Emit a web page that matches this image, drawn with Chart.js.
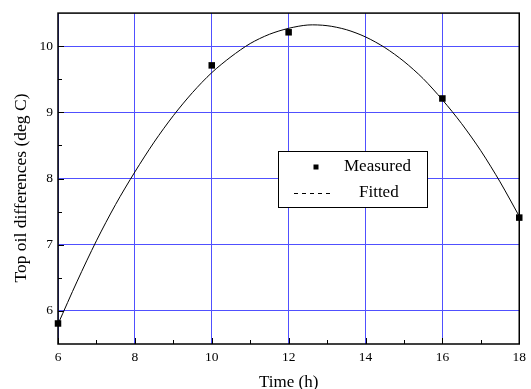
<!DOCTYPE html>
<html>
<head>
<meta charset="utf-8">
<script src="https://cdn.jsdelivr.net/npm/chart.js@4.4.0/dist/chart.umd.min.js"></script>
<style>
  html, body { margin: 0; padding: 0; background: #fff; }
  #wrap { width: 531px; height: 389px; }
</style>
</head>
<body>
<div id="wrap"><canvas id="myChart"></canvas></div>
<script>
/**
 *  ! Data
 * **/
const measuredHours = [6, 10, 12, 16, 18];
const measuredTemps = [5.81, 9.71, 10.21, 9.21, 7.41];

// fitted curve, every half hour
const fittedHours = [6, 6.5, 7, 7.5, 8, 8.5, 9, 9.5, 10, 10.5, 11, 11.5, 12,
  12.5, 13, 13.5, 14, 14.5, 15, 15.5, 16, 16.5, 17, 17.5, 18];
const fittedTemps = [5.8, 6.45, 7.06, 7.61, 8.1, 8.55, 8.95, 9.3, 9.6, 9.84,
  10.04, 10.18, 10.27, 10.32, 10.31, 10.25, 10.14, 9.98, 9.77, 9.51, 9.19,
  8.83, 8.42, 7.95, 7.43];

const xTicks = [6, 8, 10, 12, 14, 16, 18];
const yTicks = [6, 7, 8, 9, 10];
const yTitle = "Top oil differences (deg C)";

const serif = "'Liberation Serif', 'DejaVu Serif', serif";
const gridBlue = "rgb(80, 80, 255)";

/**
 *  ! Frame with inward ticks
 * **/
const framePlugin = {
  id: "frame",
  beforeDatasetsDraw(chart) {
    const { ctx, chartArea: a, scales } = chart;
    ctx.save();
    ctx.strokeStyle = "#000";
    ctx.lineWidth = 1.5;
    ctx.strokeRect(a.left, a.top, a.right - a.left, a.bottom - a.top);

    ctx.lineWidth = 1;
    ctx.beginPath();
    for (let h = 6; h <= 18; h++) {
      const px = Math.round(scales.x.getPixelForValue(h)) + 0.5;
      const len = h % 2 === 0 ? 6 : 4;
      ctx.moveTo(px, a.bottom);
      ctx.lineTo(px, a.bottom - len);
    }
    for (let v = 6; v <= 10; v += 0.5) {
      const py = Math.round(scales.y.getPixelForValue(v)) + 0.5;
      const len = Number.isInteger(v) ? 6 : 4;
      ctx.moveTo(a.left, py);
      ctx.lineTo(a.left + len, py);
    }
    ctx.stroke();

    // y axis title, sits a little below the middle like the original
    ctx.translate(21, 188);
    ctx.rotate(-Math.PI / 2);
    ctx.fillStyle = "#000";
    ctx.font = "17.5px " + serif;
    ctx.textAlign = "center";
    ctx.textBaseline = "middle";
    ctx.fillText(yTitle, 0, 0);
    ctx.restore();
  },
};

/**
 *  ! Legend box inside the plot
 * **/
const legendPlugin = {
  id: "boxLegend",
  afterDraw(chart) {
    const { ctx } = chart;
    const x = 278, y = 151, w = 149, h = 56;
    ctx.save();
    ctx.fillStyle = "#888";
    ctx.fillRect(x + 1, y + 1, w, h);
    ctx.fillStyle = "#fff";
    ctx.fillRect(x, y, w, h);
    ctx.strokeStyle = "#000";
    ctx.lineWidth = 1;
    ctx.strokeRect(x + 0.5, y + 0.5, w, h);

    // measured marker
    ctx.fillStyle = "#000";
    ctx.fillRect(313.5, 164.5, 5, 5);

    // fitted dashes
    ctx.setLineDash([4, 4]);
    ctx.beginPath();
    ctx.moveTo(294, 193.5);
    ctx.lineTo(334, 193.5);
    ctx.stroke();
    ctx.setLineDash([]);

    ctx.font = "17px " + serif;
    ctx.textBaseline = "middle";
    ctx.textAlign = "left";
    ctx.fillText("Measured", 344, 167);
    ctx.fillText("Fitted", 359, 193);
    ctx.restore();
  },
};

const ctx = document.getElementById("myChart");

new Chart(ctx, {
  type: "scatter",
  data: {
    datasets: [
      // measured
      {
        label: "Measured",
        data: measuredHours.map((h, i) => ({ x: h, y: measuredTemps[i] })),
        pointStyle: "rect",
        pointRadius: 4.6,
        backgroundColor: "#000",
        borderColor: "#000",
        borderWidth: 0,
        clip: false,
        order: 0,
      },
      // fitted
      {
        label: "Fitted",
        data: fittedHours.map((h, i) => ({ x: h, y: fittedTemps[i] })),
        showLine: true,
        tension: 0.3,
        pointRadius: 0,
        borderColor: "#000",
        borderWidth: 1,
        clip: false,
        order: 1,
      },
    ],
  },
  options: {
    responsive: true,
    maintainAspectRatio: false,
    animation: false,
    layout: { padding: { left: 0, right: 8, top: 13, bottom: 0 } },
    scales: {
      x: {
        type: "linear",
        min: 6,
        max: 18,
        afterBuildTicks: (s) => { s.ticks = xTicks.map((v) => ({ value: v })); },
        afterFit: (s) => { s.height = 45; },
        ticks: {
          color: "#000",
          font: { family: serif, size: 13.5 },
          padding: 5,
          maxRotation: 0,
          autoSkip: false,
        },
        grid: { color: gridBlue, lineWidth: 1, drawTicks: false },
        border: { display: false },
        title: {
          display: true,
          text: "Time (h)",
          color: "#000",
          font: { family: serif, size: 17 },
          padding: { top: -4, bottom: -4 },
        },
      },
      y: {
        type: "linear",
        min: 5.5,
        max: 10.5,
        afterBuildTicks: (s) => { s.ticks = yTicks.map((v) => ({ value: v })); },
        afterFit: (s) => { s.width = 58; },
        ticks: {
          color: "#000",
          font: { family: serif, size: 13.5 },
          padding: 5,
          autoSkip: false,
        },
        grid: { color: gridBlue, lineWidth: 1, drawTicks: false },
        border: { display: false },
      },
    },
    plugins: {
      legend: { display: false },
      tooltip: { enabled: false },
    },
  },
  plugins: [framePlugin, legendPlugin],
});
</script>
</body>
</html>
